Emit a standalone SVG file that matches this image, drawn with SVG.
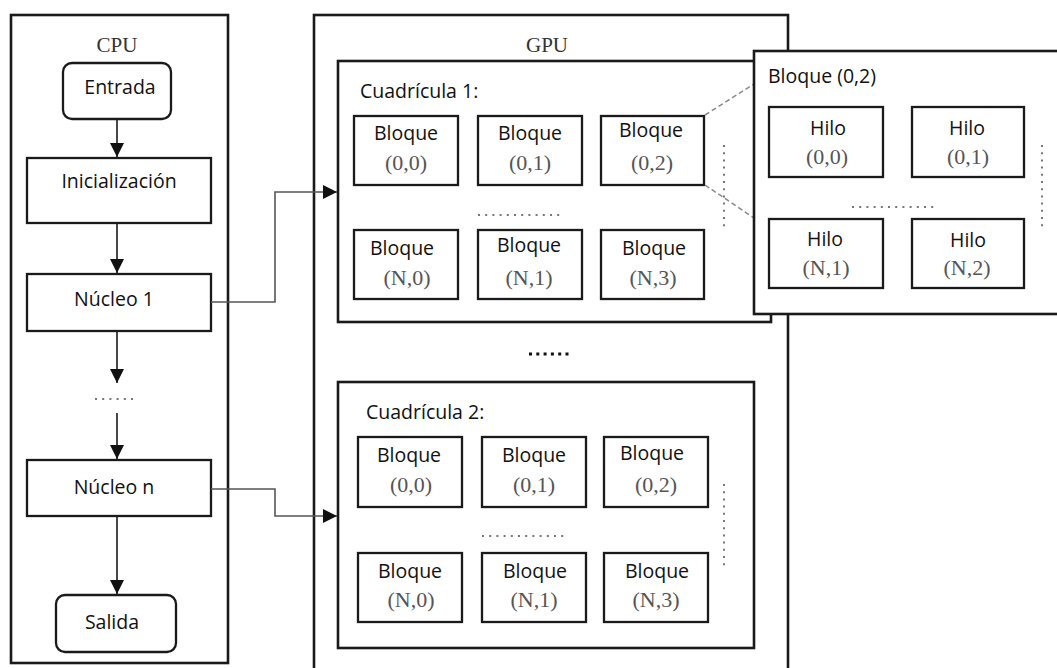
<svg xmlns="http://www.w3.org/2000/svg" width="1057" height="668" viewBox="0 0 1057 668">
  <style>
    .frame { fill: #fff; stroke: #1a1a1a; stroke-width: 2.6; }
    .box { fill: #fff; stroke: #1a1a1a; stroke-width: 2.3; }
    .lbl { font-family: "Open Sans", "Noto Sans", sans-serif; font-size: 19.5px; fill: #111; }
    .mid { text-anchor: middle; }
    .crd { font-family: "Liberation Serif", serif; font-size: 22px; fill: #555; text-anchor: middle; }
    .ttl { font-family: "Liberation Serif", serif; font-size: 21px; fill: #333; text-anchor: middle; }
    .dots { stroke: #777; stroke-width: 2; stroke-dasharray: 2 5.2; fill: none; }
    .bold-dots { stroke: #111; stroke-width: 3; stroke-dasharray: 3 4.3; fill: none; }
    .zoomline { stroke: #8a8a8a; stroke-width: 1.5; stroke-dasharray: 5 3; fill: none; }
    .flow { stroke: #1a1a1a; stroke-width: 1.6; fill: none; }
    .link { stroke: #555; stroke-width: 1.6; fill: none; }
  </style>
  <defs>
    <marker id="tri" viewBox="0 0 14 14" refX="14" refY="7" markerWidth="14" markerHeight="14" markerUnits="userSpaceOnUse" orient="auto">
      <path d="M0,0 L14,7 L0,14 Z" fill="#111"/>
    </marker>
  </defs>

  <rect width="1057" height="668" fill="#fff"/>

  <!-- CPU side -->
  <g id="cpu">
    <rect class="frame" x="11" y="15" width="217" height="648"/>
    <text class="ttl" x="117" y="52">CPU</text>
  </g>
  <g id="entrada">
    <rect class="box" x="63" y="63" width="108" height="56" rx="9"/>
    <text class="lbl mid" x="120" y="94">Entrada</text>
  </g>
  <g id="inicializacion">
    <rect class="box" x="27" y="158" width="184" height="65"/>
    <text class="lbl mid" x="119" y="188">Inicialización</text>
  </g>
  <g id="nucleo1">
    <rect class="box" x="27" y="274" width="184" height="57"/>
    <text class="lbl mid" x="114" y="306">Núcleo 1</text>
  </g>
  <g id="cpu-dots">
    <line class="dots" x1="95" y1="399" x2="137" y2="399" stroke="#999"/>
  </g>
  <g id="nucleon">
    <rect class="box" x="27" y="460" width="184" height="56"/>
    <text class="lbl mid" x="114" y="494">Núcleo n</text>
  </g>
  <g id="salida">
    <rect class="box" x="56" y="595" width="120" height="57" rx="9"/>
    <text class="lbl mid" x="112" y="629">Salida</text>
  </g>

  <!-- GPU side -->
  <g id="gpu">
    <rect class="frame" x="314" y="15" width="474" height="680"/>
    <text class="ttl" x="547" y="52">GPU</text>
    <line class="bold-dots" x1="529" y1="354" x2="572" y2="354"/>
  </g>

  <g id="grid1">
    <rect class="frame" x="338" y="61" width="433" height="261"/>
    <text class="lbl" x="360" y="98">Cuadrícula 1:</text>
    <g id="g1-b00">
      <rect class="box" x="354" y="116" width="104" height="69"/>
      <text class="lbl mid" x="406" y="140">Bloque</text>
      <text class="crd" x="406" y="170">(0,0)</text>
    </g>
    <g id="g1-b01">
      <rect class="box" x="478" y="116" width="104" height="69"/>
      <text class="lbl mid" x="530" y="140">Bloque</text>
      <text class="crd" x="530" y="170">(0,1)</text>
    </g>
    <g id="g1-b02">
      <rect class="box" x="601" y="116" width="103" height="69"/>
      <text class="lbl mid" x="651" y="137">Bloque</text>
      <text class="crd" x="652" y="170">(0,2)</text>
    </g>
    <line class="dots" x1="478" y1="215" x2="564" y2="215"/>
    <line class="dots" x1="724" y1="145" x2="724" y2="230"/>
    <g id="g1-bn0">
      <rect class="box" x="354" y="230" width="104" height="69"/>
      <text class="lbl mid" x="402" y="255">Bloque</text>
      <text class="crd" x="407" y="285">(N,0)</text>
    </g>
    <g id="g1-bn1">
      <rect class="box" x="478" y="230" width="104" height="69"/>
      <text class="lbl mid" x="529" y="252">Bloque</text>
      <text class="crd" x="529" y="285">(N,1)</text>
    </g>
    <g id="g1-bn3">
      <rect class="box" x="601" y="230" width="103" height="69"/>
      <text class="lbl mid" x="654" y="255">Bloque</text>
      <text class="crd" x="653" y="285">(N,3)</text>
    </g>
  </g>

  <!-- lines opening Bloque (0,2) into its detail panel -->
  <g id="zoom-lines">
    <line class="zoomline" x1="705" y1="115" x2="754" y2="84"/>
    <line class="zoomline" x1="705" y1="185" x2="754" y2="218"/>
  </g>

  <g id="block-detail">
    <rect class="frame" x="754" y="51" width="320" height="263"/>
    <text class="lbl" x="768" y="83">Bloque (0,2)</text>
    <g id="t00">
      <rect class="box" x="769" y="107" width="114" height="70"/>
      <text class="lbl mid" x="828" y="135">Hilo</text>
      <text class="crd" x="827" y="164">(0,0)</text>
    </g>
    <g id="t01">
      <rect class="box" x="912" y="107" width="112" height="70"/>
      <text class="lbl mid" x="967" y="135">Hilo</text>
      <text class="crd" x="968" y="164">(0,1)</text>
    </g>
    <line class="dots" x1="852" y1="207" x2="938" y2="207"/>
    <line class="dots" x1="1042" y1="145" x2="1042" y2="230"/>
    <g id="tn1">
      <rect class="box" x="769" y="219" width="114" height="69"/>
      <text class="lbl mid" x="825" y="246">Hilo</text>
      <text class="crd" x="826" y="275">(N,1)</text>
    </g>
    <g id="tn2">
      <rect class="box" x="912" y="219" width="112" height="69"/>
      <text class="lbl mid" x="968" y="247">Hilo</text>
      <text class="crd" x="967" y="275">(N,2)</text>
    </g>
  </g>

  <g id="grid2">
    <rect class="frame" x="338" y="382" width="416" height="266"/>
    <text class="lbl" x="366" y="419">Cuadrícula 2:</text>
    <g id="g2-b00">
      <rect class="box" x="358" y="437" width="104" height="70"/>
      <text class="lbl mid" x="409" y="462">Bloque</text>
      <text class="crd" x="411" y="492">(0,0)</text>
    </g>
    <g id="g2-b01">
      <rect class="box" x="482" y="437" width="104" height="70"/>
      <text class="lbl mid" x="534" y="462">Bloque</text>
      <text class="crd" x="534" y="492">(0,1)</text>
    </g>
    <g id="g2-b02">
      <rect class="box" x="604" y="437" width="104" height="70"/>
      <text class="lbl mid" x="652" y="460">Bloque</text>
      <text class="crd" x="656" y="492">(0,2)</text>
    </g>
    <line class="dots" x1="482" y1="536" x2="568" y2="536"/>
    <line class="dots" x1="724" y1="484" x2="724" y2="569"/>
    <g id="g2-bn0">
      <rect class="box" x="358" y="553" width="104" height="69"/>
      <text class="lbl mid" x="410" y="578">Bloque</text>
      <text class="crd" x="411" y="607">(N,0)</text>
    </g>
    <g id="g2-bn1">
      <rect class="box" x="482" y="553" width="104" height="69"/>
      <text class="lbl mid" x="535" y="578">Bloque</text>
      <text class="crd" x="534" y="607">(N,1)</text>
    </g>
    <g id="g2-bn3">
      <rect class="box" x="604" y="553" width="104" height="69"/>
      <text class="lbl mid" x="657" y="578">Bloque</text>
      <text class="crd" x="656" y="607">(N,3)</text>
    </g>
  </g>

  <!-- connectors -->
  <g id="connectors">
    <line class="flow" x1="117" y1="119" x2="117" y2="157" marker-end="url(#tri)"/>
    <line class="flow" x1="117" y1="223" x2="117" y2="273" marker-end="url(#tri)"/>
    <line class="flow" x1="117" y1="331" x2="117" y2="383" marker-end="url(#tri)"/>
    <line class="flow" x1="117" y1="413" x2="117" y2="459" marker-end="url(#tri)"/>
    <line class="flow" x1="117" y1="516" x2="117" y2="594" marker-end="url(#tri)"/>
    <polyline class="link" points="211,302 275,302 275,192 337,192" marker-end="url(#tri)"/>
    <polyline class="link" points="211,489 275,489 275,516 337,516" marker-end="url(#tri)"/>
  </g>
</svg>
